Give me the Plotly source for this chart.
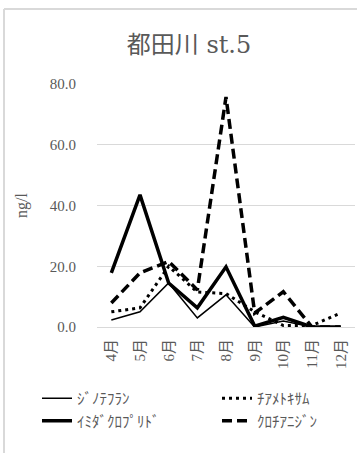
import plotly.graph_objects as go

months = ["4月", "5月", "6月", "7月", "8月", "9月", "10月", "11月", "12月"]
dinotefuran = [2.3, 5.0, 14.5, 3.0, 10.6, 0.0, 2.0, 0.0, 0.0]
thiamethoxam = [5.0, 6.3, 20.0, 11.5, 11.0, 5.0, 0.5, 0.5, 4.6]
imidacloprid = [17.8, 43.5, 14.5, 6.3, 19.8, 0.3, 3.2, 0.0, 0.0]
clothianidin = [7.9, 17.8, 21.6, 12.2, 75.7, 4.6, 11.6, 0.0, 0.0]

names = ["ｼﾞﾉﾃﾌﾗﾝ", "ﾁｱﾒﾄｷｻﾑ", "ｲﾐﾀﾞｸﾛﾌﾟﾘﾄﾞ", "ｸﾛﾁｱﾆｼﾞﾝ"]
yticks = [0, 20, 40, 60, 80]
ytick_text = ["0.0", "20.0", "40.0", "60.0", "80.0"]

FONT = "Liberation Serif, DejaVu Serif, Noto Sans CJK JP, serif"
GRAY = "#595959"
L, T, PW, PH = 97, 84, 258, 243

fig = go.Figure()
fig.add_trace(go.Scatter(x=months, y=dinotefuran, name=names[0], mode="lines",
                         legend="legend", legendgroup="a",
                         line=dict(color="black", width=1.5)))
fig.add_trace(go.Scatter(x=months, y=thiamethoxam, name=names[1], mode="lines",
                         legend="legend2", legendgroup="b",
                         line=dict(color="black", width=3, dash="3px,4px")))
fig.add_trace(go.Scatter(x=months, y=imidacloprid, name=names[2], mode="lines",
                         legend="legend", legendgroup="c",
                         line=dict(color="black", width=3.5)))
fig.add_trace(go.Scatter(x=months, y=clothianidin, name=names[3], mode="lines",
                         legend="legend2", legendgroup="d",
                         line=dict(color="black", width=3.5, dash="10px,5px")))

leg_common = dict(orientation="v", yanchor="top", tracegroupgap=14,
                  font=dict(size=15, color=GRAY, family=FONT),
                  bgcolor="rgba(0,0,0,0)", traceorder="normal")

fig.update_layout(
    width=357, height=453,
    margin=dict(l=L, r=2, t=T, b=453 - T - PH),
    paper_bgcolor="white", plot_bgcolor="white",
    font=dict(family=FONT, color=GRAY),
    title=dict(text="都田川 st.5", x=(189 - L) / PW, xref="paper", xanchor="center",
               y=1 - 45 / 453, yanchor="middle",
               font=dict(size=24, color=GRAY, family="DejaVu Serif, Noto Sans CJK JP, serif")),
    showlegend=True,
    legend=dict(x=(37 - L) / PW, xanchor="left", y=(T + PH - 382) / PH, **leg_common),
    legend2=dict(x=(217 - L) / PW, xanchor="left", y=(T + PH - 382) / PH, **leg_common),
    xaxis=dict(showgrid=False, showline=False, zeroline=False, ticks="",
               range=[-0.5, 8.5], ticklabelstandoff=8,
               tickangle=-90, tickfont=dict(size=15, color=GRAY, family=FONT),
               fixedrange=True),
    yaxis=dict(range=[0, 80], tickvals=yticks, ticktext=ytick_text,
               showgrid=True, gridcolor="#d9d9d9", gridwidth=1.3,
               zeroline=True, zerolinecolor="#d9d9d9", zerolinewidth=1.3,
               showline=False, ticks="", ticklabelstandoff=20,
               tickfont=dict(size=15, color=GRAY, family=FONT),
               title=dict(text="ng/l", standoff=18, font=dict(size=16, color=GRAY, family=FONT)),
               fixedrange=True),
)

# chart-area border (partially visible, as in the cropped reference)
fig.add_shape(type="line", xref="paper", yref="paper",
              x0=(4 - L) / PW, x1=(4 - L) / PW, y0=(T + PH - 460) / PH, y1=(T + PH - 9) / PH,
              line=dict(color="#d9d9d9", width=2))
fig.add_shape(type="line", xref="paper", yref="paper",
              x0=(4 - L) / PW, x1=(360 - L) / PW, y0=(T + PH - 9) / PH, y1=(T + PH - 9) / PH,
              line=dict(color="#d9d9d9", width=2))

fig.write_html("out.html", config={"displayModeBar": False},
               post_script="document.body.style.margin='0';document.body.style.overflow='hidden';")
